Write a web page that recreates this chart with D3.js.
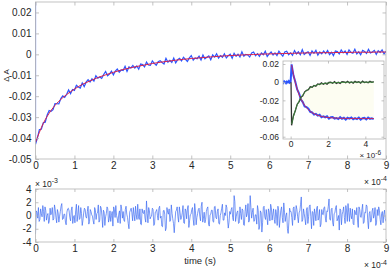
<!DOCTYPE html>
<html>
<head>
<meta charset="utf-8">
<script src="https://cdn.jsdelivr.net/npm/d3@7"></script>
<style>
  html, body { margin: 0; padding: 0; background: #fff; }
  svg { display: block; font-family: "Liberation Sans", Arial, sans-serif; }
</style>
</head>
<body>
<div id="chart"></div>
<script>
//--------------------------------------------------------------------------------
// transient absorption trace (main panel), sampled every 5 us
var traceDt = 5e-6;
var traceStartA = 0.026;   // excitation spike at t = 0, before the drop
var traceA = [
  -0.0430, -0.0399, -0.0359, -0.0358, -0.0327, -0.0324, -0.0290, -0.0268, -0.0272, -0.0264,
  -0.0235, -0.0236, -0.0237, -0.0211, -0.0198, -0.0206, -0.0191, -0.0170, -0.0188, -0.0168,
  -0.0172, -0.0148, -0.0156, -0.0161, -0.0137, -0.0154, -0.0133, -0.0121, -0.0132, -0.0117,
  -0.0128, -0.0102, -0.0114, -0.0108, -0.0115, -0.0096, -0.0082, -0.0102, -0.0094, -0.0080,
  -0.0098, -0.0080, -0.0070, -0.0086, -0.0075, -0.0077, -0.0057, -0.0082, -0.0060, -0.0065,
  -0.0053, -0.0066, -0.0056, -0.0071, -0.0046, -0.0049, -0.0060, -0.0037, -0.0051, -0.0053,
  -0.0031, -0.0043, -0.0052, -0.0035, -0.0030, -0.0039, -0.0046, -0.0019, -0.0038, -0.0029,
  -0.0039, -0.0018, -0.0041, -0.0026, -0.0019, -0.0031, -0.0014, -0.0024, -0.0034, -0.0017,
  -0.0006, -0.0028, -0.0017, -0.0021, -0.0009, -0.0027, -0.0003, -0.0021, -0.0014, -0.0007,
  -0.0026, -0.0003, -0.0013, 0.0003, -0.0018, -0.0006, -0.0014, 0.0003, -0.0017, -0.0006,
  0.0001, -0.0019, 0.0005, -0.0009, 0.0001, -0.0013, 0.0012, -0.0009, 0.0000, -0.0003,
  -0.0013, 0.0007, 0.0011, -0.0007, 0.0003, -0.0010, 0.0007, -0.0002, 0.0015, -0.0010,
  0.0002, 0.0011, -0.0003, 0.0007, -0.0006, 0.0015, 0.0002, -0.0009, 0.0011, 0.0015,
  -0.0002, 0.0007, -0.0005, 0.0018, 0.0002, 0.0012, -0.0002, 0.0022, -0.0001, 0.0007,
  0.0012, -0.0005, 0.0016, 0.0005, 0.0019, -0.0004, 0.0011, 0.0002, 0.0016, 0.0004,
  0.0018, -0.0001, 0.0010, -0.0006, 0.0016, 0.0013, 0.0002, 0.0021, 0.0007, 0.0016,
  0.0000, 0.0021, 0.0009, 0.0005, 0.0024, 0.0002, 0.0012, -0.0002, 0.0019, 0.0014,
  0.0004, 0.0024, 0.0007, 0.0011, 0.0019, 0.0000, 0.0017, 0.0009, 0.0021, 0.0002,
  0.0015
];

// fitted curve (red), every 20 us
var fitDt = 2e-5;
var fitA = [
  -0.0420, -0.0330, -0.0268, -0.0224, -0.0192, -0.0166, -0.0144, -0.0127, -0.0111, -0.0098,
  -0.0086, -0.0075, -0.0066, -0.0058, -0.0051, -0.0044, -0.0038, -0.0033, -0.0028, -0.0024,
  -0.0020, -0.0017, -0.0014, -0.0011, -0.0008, -0.0006, -0.0004, -0.0002, -0.0001, 0.0001,
  0.0002, 0.0003, 0.0004, 0.0005, 0.0006, 0.0007, 0.0007, 0.0008, 0.0008, 0.0009,
  0.0009, 0.0010, 0.0010, 0.0010, 0.0011, 0.0011
];

// residuals (lower panel) in units of 1e-3, every 1.875 us
var resDt = 1.875e-6;
var residE3 = [
  -2.8,0.7, 0.5,-0.4, 1.2,-0.9, -0.6,1.0, 0.3,-0.2, 1.5,0.6, -0.9,1.3, 0.8,-0.7, 0.0,0.3, -1.2,-0.8, 1.1,0.1, 0.4,1.2, -0.7,-0.5, 1.6,0.9, -0.3,-1.1, 0.9,0.4, -1.0,-0.1, 0.6,1.4, 1.8,-0.6, -0.5,0.2,
  0.2,-1.0, -1.4,0.5, 1.0,1.1, 0.7,-0.3, -0.8,0.8, 1.3,-1.2, -0.2,0.0, -1.1,0.7, 1.7,-0.9, 0.1,1.5, -0.6,-0.4, 1.2,0.3, -1.5,-0.7, 0.4,1.1, 0.9,-0.2, -0.4,0.6, 1.4,-1.3, -0.9,0.9, 0.6,0.1, -0.1,-0.8,
  -1.3,1.2, 0.8,-0.6, 0.3,0.4, 1.6,-1.0, -0.7,1.4, 1.1,-0.1, -1.8,0.8, 0.5,-1.5, -0.2,0.3, 1.3,1.0, -1.0,-0.5, 0.7,-0.9, 0.0,0.6, -1.6,1.3, 0.9,-0.3, 1.5,0.0, -0.5,-1.1, 0.2,0.7, -1.2,1.6, 1.0,-0.4,
  0.6,-0.7, -0.9,0.9, 1.4,0.2, -0.3,-1.2, -2.0,0.5, 0.8,1.1, 0.4,-0.8, 1.2,0.1, -0.8,1.4, 0.1,-0.6, 1.7,-0.2, -0.6,1.0, -1.3,-1.4, 1.0,0.4, 0.3,0.8, -0.4,-1.0, 2.2,0.3, -1.1,1.2, 0.7,-0.5, -0.2,-0.1,
  1.1,0.9, -1.5,-1.3, 0.5,0.6, 0.9,0.0, -0.7,1.1, 1.4,-0.4, -0.1,-1.6, -1.7,0.7, 0.8,0.2, -2.3,-1.9, 1.2,0.5, 0.2,1.0, -0.9,-0.7, 1.6,0.3, -0.5,-1.2, -2.6,-0.9, 0.6,0.8, 1.3,-0.2, -1.0,1.3, 0.4,-0.6,
  -0.3,0.4, 1.5,-1.1, -1.2,1.0, 0.7,-0.5, 1.0,1.5, -1.8,-0.8, 0.1,0.2, 0.9,1.2, -0.6,-1.5, 1.8,0.7, -1.4,-0.3, 0.3,0.9, 1.1,-0.1, -0.8,1.4, 2.0,-1.0, -0.4,0.5, -1.1,-0.6, 0.6,1.1, 1.3,-1.3, -1.6,0.1,
  0.2,0.8, 0.8,-0.9, -1.0,1.3, 1.4,-0.3, -0.5,0.6, 1.0,-1.2, -1.3,0.0, 0.4,1.1, 1.7,-0.7, -0.7,0.4, 0.0,1.6, 1.2,-0.5, -1.9,-1.0, 0.6,0.2, 0.9,1.2, -0.3,-0.8, 3.0,2.1, -0.9,-0.1, 0.5,0.7, -1.2,-1.1,
  1.3,0.3, -0.6,1.0, 0.8,-1.4, -1.5,0.6, 1.6,-0.2, 0.3,1.8, -1.0,-0.7, 3.0,1.2, -0.4,0.5, 1.1,-0.9, -0.8,0.1, 0.1,-1.3, 1.5,0.8, -2.1,-1.6, 0.7,0.4, -2.5,-1.1, 1.2,1.4, -0.2,-0.6, 0.9,-0.3, -1.4,1.0,
  0.5,-0.8, 1.7,1.2, -0.7,0.2, 1.0,-0.6, -1.2,0.9, 0.2,-1.5, 1.4,0.7, -1.8,-0.4, 0.8,1.3, -0.3,-1.1, 1.9,0.5, -0.9,0.0, 0.4,-2.0, -2.7,-1.0, 1.1,0.6, 0.6,-0.3, -1.5,1.1, 1.3,-0.7, -0.1,1.5, 0.9,-0.2,
  -1.1,0.4, 0.7,1.7, 2.8,-0.9, -0.6,1.0, 0.3,-0.5, -1.4,0.8, 1.2,-1.2, -0.2,1.4, 1.6,-0.1, -2.0,0.6, 0.5,-1.5, 1.0,0.3, -0.8,1.1, 1.4,-0.7, -0.4,0.9, -1.7,-1.3, 0.9,0.2, 0.1,1.2, 1.3,-0.4, -1.0,0.7,
  0.6,1.4, 2.5,-0.6, -0.7,0.9, 1.1,-1.1, -1.6,0.3, 0.4,1.2, 1.5,-0.8, -0.5,0.0, -2.2,1.0, 0.8,-1.4, 0.2,0.6, 1.3,-0.3, -1.2,1.5, 0.7,-0.9, 1.8,0.4, -0.9,1.1, 0.0,-0.5, 1.0,-1.2, -1.4,0.8, 0.5,0.1,
  1.2,-0.7, -1.8,1.3, 0.9,-0.2, -0.3,0.9, 1.7,-1.2, -1.0,0.5, 0.4,1.6, 1.4,-0.8, -2.0,0.3, 0.6,-1.0, -0.8,0.7, 1.1,-0.4, 0.1,1.2, -1.5,-1.1, 0.9,0.0, 1.3,0.8, -0.6,-1.4, 0.3,0.6, -1.1,0.2, 0.8,-0.5,
  -0.9
];

// inset (microsecond scale)
var inPreT0 = -0.45e-6, inPreDt = 0.05e-6;
var inPreA = [0.0005, -0.0008, 0.0010, 0.0002, -0.0011, 0.0007, -0.0003, 0.0012, -0.0006, 0.0004];
var inT0 = 0.05e-6, inDt = 0.1e-6;
var inBlueA = [
  0.0196, 0.0073, 0.0004, -0.0080, -0.0123, -0.0191, -0.0219, -0.0268, -0.0274, -0.0292,
  -0.0326, -0.0333, -0.0357, -0.0348, -0.0367, -0.0358, -0.0385, -0.0376, -0.0386, -0.0376,
  -0.0401, -0.0386, -0.0384, -0.0401, -0.0394, -0.0406, -0.0385, -0.0402, -0.0392, -0.0411,
  -0.0391, -0.0400, -0.0389, -0.0407, -0.0396, -0.0406, -0.0389, -0.0411, -0.0396, -0.0393,
  -0.0409, -0.0388, -0.0403, -0.0398, -0.0407
];
var inRedFitA = [
  0.0190, 0.0083, -0.0005, -0.0076, -0.0135, -0.0183, -0.0222, -0.0255, -0.0281, -0.0302,
  -0.0320, -0.0335, -0.0346, -0.0356, -0.0364, -0.0371, -0.0376, -0.0380, -0.0384, -0.0387,
  -0.0389, -0.0391, -0.0393, -0.0394, -0.0395, -0.0396, -0.0397, -0.0397, -0.0398, -0.0398,
  -0.0399, -0.0399, -0.0399, -0.0399, -0.0399, -0.0400, -0.0400, -0.0400, -0.0400, -0.0400,
  -0.0400, -0.0400, -0.0400, -0.0400, -0.0400
];
var inBlackStart = {t: 0.02e-6, a: 0.0};
var inBlackA = [
  -0.0475, -0.0369, -0.0314, -0.0242, -0.0216, -0.0165, -0.0151, -0.0106, -0.0091, -0.0084,
  -0.0051, -0.0055, -0.0036, -0.0044, -0.0019, -0.0025, -0.0007, -0.0022, -0.0010, -0.0021,
  -0.0003, 0.0001, -0.0012, 0.0005, -0.0013, -0.0002, -0.0015, 0.0005, 0.0002, -0.0006,
  0.0010, -0.0008, 0.0002, -0.0010, 0.0009, -0.0003, 0.0006, -0.0011, 0.0012, -0.0004,
  0.0003, -0.0007, 0.0010, -0.0002, 0.0005
];
var inGreenFitA = [
  -0.0460, -0.0377, -0.0308, -0.0252, -0.0207, -0.0169, -0.0139, -0.0113, -0.0093, -0.0076,
  -0.0062, -0.0051, -0.0042, -0.0034, -0.0028, -0.0023, -0.0019, -0.0015, -0.0013, -0.0010,
  -0.0008, -0.0007, -0.0006, -0.0005, -0.0004, -0.0003, -0.0003, -0.0002, -0.0002, -0.0001,
  -0.0001, 0.0000, 0.0000, 0.0000, 0.0000, 0.0000, 0.0000, 0.0000, 0.0000, 0.0000,
  0.0000, 0.0000, 0.0000, 0.0000, 0.0000
];

// ticks
var mainXTicks  = [0, 1e-4, 2e-4, 3e-4, 4e-4, 5e-4, 6e-4, 7e-4, 8e-4, 9e-4];
var mainXLabels = ["0", "1", "2", "3", "4", "5", "6", "7", "8", "9"];
var mainYTicks  = [-0.05, -0.04, -0.03, -0.02, -0.01, 0, 0.01, 0.02];
var mainYLabels = ["-0.05", "-0.04", "-0.03", "-0.02", "-0.01", "0", "0.01", "0.02"];
var resYTicks   = [-4, -2, 0, 2, 4];
var resYLabels  = ["-4", "-2", "0", "2", "4"];
var inXTicks    = [0, 2e-6, 4e-6];
var inXLabels   = ["0", "2", "4"];
var inYTicks    = [-0.06, -0.04, -0.02, 0, 0.02];
var inYLabels   = ["-0.06", "-0.04", "-0.02", "0", "0.02"];

//--------------------------------------------------------------------------------
var W = 392, H = 269;
var axisColor = "#b3b3b3", textColor = "#262626";
var dataBlue = "#2b55ff", fitRed = "#d8204c";

var svg = d3.select("#chart").append("svg")
    .attr("width", W).attr("height", H);

var xMain = d3.scaleLinear().domain([0, 9e-4]).range([35.5, 386]);
var yMain = d3.scaleLinear().domain([-0.05, 0.025]).range([159, 2]);
var yRes  = d3.scaleLinear().domain([-4, 4]).range([242, 189]);
var xIn   = d3.scaleLinear().domain([-0.41e-6, 5e-6]).range([283, 384]);
var yIn   = d3.scaleLinear().domain([-0.0625, 0.0233]).range([139, 61]);

//--------------------------------------------------------------------------------
function clipFor(id, x, y) {
   svg.append("clipPath").attr("id", id).append("rect")
      .attr("x", x.range()[0]).attr("y", y.range()[1])
      .attr("width", x.range()[1] - x.range()[0])
      .attr("height", y.range()[0] - y.range()[1]);
   return "url(#" + id + ")";
}
//--------------------------------------------------------------------------------
function drawAxes(x, y, o) {
   var g = svg.append("g");
   var xr = x.range(), yr = y.range();

   g.append("g").attr("transform", "translate(0," + yr[0] + ")")
    .call(d3.axisBottom(x).tickValues(o.xTicks).tickSizeOuter(0).tickSizeInner(-o.tick)
          .tickPadding(o.xPad).tickFormat(function(d, i){ return o.xLabels[i]; }));
   g.append("g").attr("transform", "translate(0," + yr[1] + ")")
    .call(d3.axisTop(x).tickValues(o.xTicks).tickSizeOuter(0).tickSizeInner(-o.tick).tickFormat(""));
   g.append("g").attr("transform", "translate(" + xr[0] + ",0)")
    .call(d3.axisLeft(y).tickValues(o.yTicks).tickSizeOuter(0).tickSizeInner(-o.tick)
          .tickPadding(o.yPad).tickFormat(function(d, i){ return o.yLabels[i]; }));
   g.append("g").attr("transform", "translate(" + xr[1] + ",0)")
    .call(d3.axisRight(y).tickValues(o.yTicks).tickSizeOuter(0).tickSizeInner(-o.tick).tickFormat(""));

   g.selectAll(".domain").remove();
   g.selectAll(".tick line").attr("stroke", axisColor).attr("stroke-width", 0.8);
   g.selectAll("g").attr("font-family", null).attr("font-size", null);
   g.selectAll(".tick text").attr("fill", textColor).attr("font-size", o.fontSize);

   g.append("rect")
    .attr("x", xr[0]).attr("y", yr[1])
    .attr("width", xr[1] - xr[0]).attr("height", yr[0] - yr[1])
    .attr("fill", "none").attr("stroke", axisColor).attr("stroke-width", 0.8);
}
//--------------------------------------------------------------------------------
function exponentLabel(x, y, exp, anchor, size) {
   var t = svg.append("text")
      .attr("x", x).attr("y", y)
      .attr("text-anchor", anchor)
      .attr("fill", textColor)
      .attr("font-size", size);
   t.append("tspan").text("\u00d7 10");
   t.append("tspan").attr("dy", -3.5).attr("font-size", size - 1.5).text(exp);
}
//--------------------------------------------------------------------------------
// main panel
var mainClip = clipFor("clipMain", xMain, yMain);

var tracePts = [{t: 0, a: traceStartA}].concat(
   traceA.map(function(a, i){ return {t: i * traceDt, a: a}; }));
var fitPts = fitA.map(function(a, i){ return {t: i * fitDt, a: a}; });

var lineMain = d3.line()
   .x(function(d){ return xMain(d.t); })
   .y(function(d){ return yMain(d.a); });

svg.append("g").attr("clip-path", mainClip)
   .append("path").datum(tracePts)
   .attr("d", lineMain)
   .attr("fill", "none").attr("stroke", dataBlue).attr("stroke-width", 1.2);

svg.append("g").attr("clip-path", mainClip)
   .append("path").datum(fitPts)
   .attr("d", lineMain.curve(d3.curveMonotoneX))
   .attr("fill", "none").attr("stroke", fitRed).attr("stroke-width", 1);

drawAxes(xMain, yMain, {xTicks: mainXTicks, xLabels: mainXLabels, yTicks: mainYTicks,
                        yLabels: mainYLabels, tick: 3.5, xPad: 3, yPad: 4, fontSize: 10});

svg.append("text")
   .attr("transform", "translate(8.5,75.5) rotate(-90)")
   .attr("text-anchor", "middle")
   .attr("fill", textColor).attr("font-size", 8)
   .text("\u0394 A");

exponentLabel(387, 184.5, "-4", "end", 8.5);

//--------------------------------------------------------------------------------
// inset
svg.append("rect")
   .attr("x", xIn.range()[0]).attr("y", yIn.range()[1])
   .attr("width", xIn.range()[1] - xIn.range()[0])
   .attr("height", yIn.range()[0] - yIn.range()[1])
   .attr("fill", "#fff");

var inClip = clipFor("clipInset", xIn, yIn);
var gIn = svg.append("g").attr("clip-path", inClip);

var lineIn = d3.line()
   .x(function(d){ return xIn(d.t); })
   .y(function(d){ return yIn(d.a); });

var fitRedPts = inRedFitA.map(function(a, i){ return {t: inT0 + i * inDt, a: a}; });
var fitGreenPts = inGreenFitA.map(function(a, i){ return {t: inT0 + i * inDt, a: a}; });

// faint tint between the two fits
var bandPts = fitRedPts.map(function(d, i){ return {t: d.t, lo: d.a, hi: fitGreenPts[i].a}; })
   .filter(function(d){ return d.hi > d.lo; });
gIn.append("path").datum(bandPts)
   .attr("d", d3.area()
      .x(function(d){ return xIn(d.t); })
      .y0(function(d){ return yIn(d.lo); })
      .y1(function(d){ return yIn(d.hi); }))
   .attr("fill", "#fdfdf2");

var bluePts = inPreA.map(function(a, i){ return {t: inPreT0 + i * inPreDt, a: a}; })
   .concat(inBlueA.map(function(a, i){ return {t: inT0 + i * inDt, a: a}; }));
gIn.append("path").datum(bluePts)
   .attr("d", lineIn)
   .attr("fill", "none").attr("stroke", dataBlue).attr("stroke-width", 2);

gIn.append("path").datum(fitRedPts)
   .attr("d", lineIn)
   .attr("fill", "none").attr("stroke", fitRed).attr("stroke-width", 0.9);

var blackPts = [inBlackStart].concat(
   inBlackA.map(function(a, i){ return {t: inT0 + i * inDt, a: a}; }));
gIn.append("path").datum(blackPts)
   .attr("d", lineIn)
   .attr("fill", "none").attr("stroke", "#333").attr("stroke-width", 1.3);

gIn.append("path").datum(fitGreenPts)
   .attr("d", lineIn)
   .attr("fill", "none").attr("stroke", "#3c8c3c").attr("stroke-width", 0.9);

drawAxes(xIn, yIn, {xTicks: inXTicks, xLabels: inXLabels, yTicks: inYTicks,
                    yLabels: inYLabels, tick: 2.5, xPad: 1.5, yPad: 4, fontSize: 8.5});

exponentLabel(381, 158, "-6", "end", 8);

//--------------------------------------------------------------------------------
// residual panel
var resClip = clipFor("clipRes", xMain, yRes);
var resPts = residE3.map(function(a, i){ return {t: i * resDt, a: a}; });

svg.append("g").attr("clip-path", resClip)
   .append("path").datum(resPts)
   .attr("d", d3.line()
      .x(function(d){ return xMain(d.t); })
      .y(function(d){ return yRes(d.a); }))
   .attr("fill", "none").attr("stroke", "#3d6cf2").attr("stroke-width", 0.7);

drawAxes(xMain, yRes, {xTicks: mainXTicks, xLabels: mainXLabels, yTicks: resYTicks,
                       yLabels: resYLabels, tick: 3, xPad: 3, yPad: 4, fontSize: 10});

exponentLabel(35, 186.7, "-3", "start", 8.5);
exponentLabel(387, 268, "-4", "end", 8.5);

svg.append("text")
   .attr("x", 200).attr("y", 263.5)
   .attr("text-anchor", "middle")
   .attr("fill", textColor).attr("font-size", 9.5)
   .text("time (s)");
//--------------------------------------------------------------------------------
</script>
</body>
</html>
